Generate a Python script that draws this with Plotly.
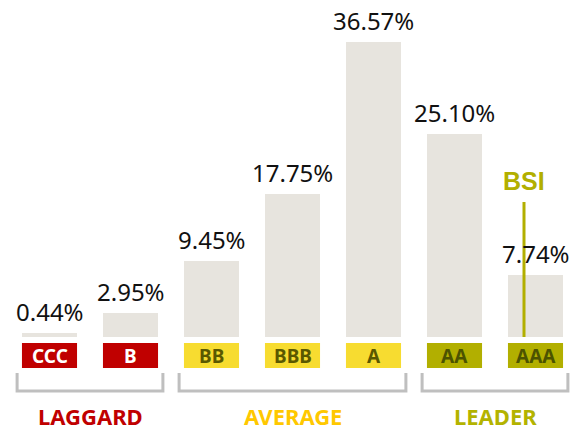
import plotly.graph_objects as go

# ---- data ----
ratings = ["CCC", "B", "BB", "BBB", "A", "AA", "AAA"]
shares = [0.44, 2.95, 9.45, 17.75, 36.57, 25.10, 7.74]
value_labels = ["0.44%", "2.95%", "9.45%", "17.75%", "36.57%", "25.10%", "7.74%"]
groups = ["LAGGARD", "AVERAGE", "LEADER"]
group_members = [["CCC", "B"], ["BB", "BBB", "A"], ["AA", "AAA"]]
bsi_label = "BSI"

# ---- style ----
RED = "#C00000"
YELLOW = "#F7DC30"
OLIVE = "#B2AF00"
BAR_GRAY = "#E7E4DE"
BRACKET_GRAY = "#BFBFBF"
group_fill = {"LAGGARD": RED, "AVERAGE": YELLOW, "LEADER": OLIVE}
group_text = {"LAGGARD": "#FFFFFF", "AVERAGE": "#5A5800", "LEADER": "#4C5300"}
group_title = {"LAGGARD": "#C00000", "AVERAGE": "#FFC800", "LEADER": "#B3B300"}

W, H = 578, 432
BASE_PX = 337          # baseline pixel (from top)
SCALE = 8.07           # pixels per percentage point
X0_PX, STEP = 49.5, 81.0


def y_of(px):
    return (BASE_PX - px) / SCALE


xs = list(range(len(ratings)))
fig = go.Figure()
fig.add_trace(go.Bar(x=xs, y=shares, width=0.68, marker=dict(color=BAR_GRAY, line=dict(width=0)),
                     hoverinfo="skip", showlegend=False))

font_main = "Noto Sans"

# value labels
for x, v, t in zip(xs, shares, value_labels):
    fig.add_annotation(x=x, y=v, text=t, showarrow=False, yanchor="bottom", yshift=3,
                       font=dict(family=font_main, size=24, color="#111111"))

# rating boxes
rating_group = {}
for g, mem in zip(groups, group_members):
    for r in mem:
        rating_group[r] = g
for x, r in zip(xs, ratings):
    g = rating_group[r]
    fig.add_shape(type="rect", x0=x - 0.34, x1=x + 0.34, y0=y_of(368), y1=y_of(343),
                  xref="x", yref="y", fillcolor=group_fill[g], line=dict(width=0), layer="above")
    fig.add_annotation(x=x, y=(y_of(368) + y_of(343)) / 2, text="<b>%s</b>" % r, showarrow=False,
                       font=dict(family=font_main, size=19, color=group_text[g]))

# brackets and group titles
for g, mem in zip(groups, group_members):
    i0 = ratings.index(mem[0]) - 0.40
    i1 = ratings.index(mem[-1]) + 0.40
    yt, yb = y_of(373), y_of(391)
    fig.add_shape(type="path", path=f"M {i0} {yt} L {i0} {yb} L {i1} {yb} L {i1} {yt}",
                  xref="x", yref="y", line=dict(color=BRACKET_GRAY, width=3))
    fig.add_annotation(x=(i0 + i1) / 2, y=y_of(416), text="<b>%s</b>" % g, showarrow=False,
                       font=dict(family=font_main, size=22, color=group_title[g]))

# BSI marker
bsi_x = ratings.index("AAA") - 0.142
fig.add_shape(type="line", x0=bsi_x, x1=bsi_x, y0=0, y1=y_of(202), xref="x", yref="y",
              line=dict(color=OLIVE, width=3), layer="above")
fig.add_annotation(x=bsi_x, y=y_of(181), text="<b>%s</b>" % bsi_label, showarrow=False,
                   font=dict(family="Liberation Sans", size=25, color=OLIVE))

fig.update_layout(
    width=W, height=H, margin=dict(l=0, r=0, t=0, b=0),
    plot_bgcolor="white", paper_bgcolor="white", bargap=0,
    xaxis=dict(range=[-X0_PX / STEP, (W - X0_PX) / STEP], visible=False, fixedrange=True),
    yaxis=dict(range=[y_of(H), y_of(0)], visible=False, fixedrange=True),
)
fig.write_html("out.html", config={"displayModeBar": False},
               post_script="document.body.style.margin='0';document.body.style.overflow='hidden';")
